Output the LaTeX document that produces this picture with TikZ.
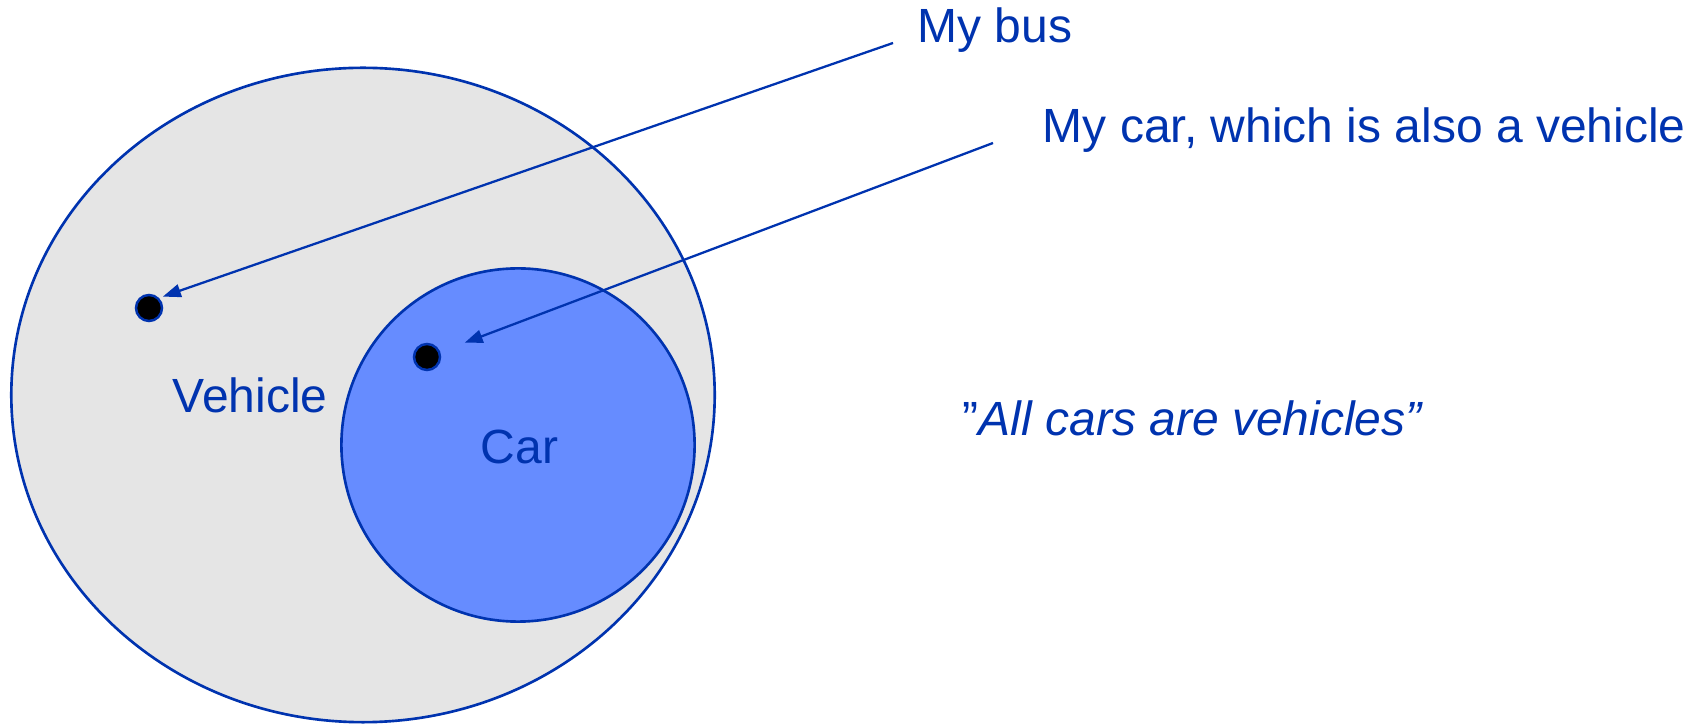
\documentclass[tikz,border=0pt]{standalone}
\usepackage{fontspec}
\setmainfont{Liberation Sans}
\usetikzlibrary{arrows.meta,shapes.geometric}
\definecolor{setblue}{RGB}{0,51,175}
\definecolor{vehgrey}{RGB}{229,229,229}
\definecolor{carblue}{RGB}{102,140,255}

\begin{document}
\begin{tikzpicture}[
  x=0.01cm, y=-0.01cm,
  font=\fontsize{13.65}{16}\selectfont, >={Triangle[length=0.18cm,width=0.13cm]},
  set/.style={draw=setblue,line width=0.75pt,inner sep=0pt},
  dot/.style={circle,draw=setblue,fill=black,line width=0.7pt,minimum size=0.26cm,inner sep=0pt},
  lbl/.style={text=setblue,inner sep=0pt,anchor=base west},
  flow/.style={->,draw=setblue,fill=setblue,line width=0.65pt},
]
\useasboundingbox (0,0) rectangle (1703,725);
\node[set,ellipse,fill=vehgrey,minimum width=7.03cm,minimum height=6.54cm] (veh) at (363,395) {};
\node[set,circle,fill=carblue,minimum size=3.53cm] (car) at (518,445) {};
\node[dot] (busdot) at (149,308) {};
\node[dot] (cardot) at (427,357) {};
\node[lbl] (vehlbl) at (172,413) {Vehicle};
\node[lbl] (carlbl) at (480,464) {Car};
\node[lbl] (bus) at (917,43) {My bus};
\node[lbl] (mycar) at (1042,143) {My car, which is also a vehicle};
\node[lbl] (quote) at (962,436) {”\textit{All cars are vehicles”}};
\coordinate (busfrom) at (893,43);
\coordinate (carfrom) at (993,143);
\draw[flow,shorten >=0.04cm] (busfrom) -- (busdot.45);
\draw[flow,shorten >=0.26cm] (carfrom) -- (cardot);
\end{tikzpicture}
\end{document}
